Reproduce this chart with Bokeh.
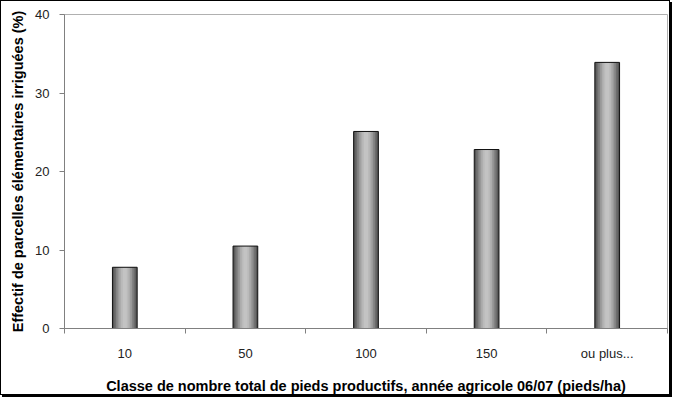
from bokeh.plotting import figure
from bokeh.models import FixedTicker, Range1d, ColumnDataSource
from bokeh.embed import file_html
from bokeh.resources import INLINE

categories = ["10", "50", "100", "150", "ou plus..."]
values = [7.8, 10.5, 25.1, 22.8, 33.9]
y_ticks = [0, 10, 20, 30, 40]

positions = list(range(1, len(categories) + 1))
src = ColumnDataSource(dict(x=positions, top=values))

p = figure(width=670, height=395, output_backend="svg", toolbar_location=None,
           x_range=Range1d(0.5, len(categories) + 0.5), y_range=Range1d(0, 40),
           min_border_left=63, min_border_right=4, min_border_top=13, min_border_bottom=61)
p.styles = {"border": "1px solid black", "box-shadow": "2px 2px 0px #000000"}

p.xgrid.visible = False
p.ygrid.visible = False
p.outline_line_color = "#b0b0b0"
p.outline_line_width = 1
p.background_fill_color = "white"
p.border_fill_color = "white"

# gradient-like bars: stacked layers, darker at edges, lighter in middle
bar_w = 0.205
layers = [(1.00, "#555555"), (0.86, "#6c6c6c"), (0.72, "#838383"),
          (0.58, "#999999"), (0.44, "#acacac"), (0.30, "#bababa"), (0.16, "#c3c3c3")]
for frac, col in layers:
    p.vbar(x="x", top="top", bottom=0, width=bar_w * frac, source=src,
           fill_color=col, line_color=None)
p.vbar(x="x", top="top", bottom=0, width=bar_w, source=src,
       fill_color=None, line_color="#111111", line_width=1)

font = "Liberation Sans"
# x axis
p.xaxis.ticker = FixedTicker(ticks=positions,
                             minor_ticks=[i + 0.5 for i in range(0, len(categories) + 1)])
p.xaxis.major_label_overrides = {pos: lab for pos, lab in zip(positions, categories)}
p.xaxis.major_tick_out = 0
p.xaxis.major_tick_in = 0
p.xaxis.minor_tick_out = 5
p.xaxis.minor_tick_in = 0
p.xaxis.minor_tick_line_color = "#808080"
p.xaxis.axis_line_color = "#808080"
p.xaxis.major_label_standoff = 12
p.xaxis.major_label_text_font = font
p.xaxis.major_label_text_font_size = "13px"
p.xaxis.major_label_text_color = "#222222"
p.xaxis.axis_label = "Classe de nombre total de pieds productifs, année agricole 06/07 (pieds/ha)"
p.xaxis.axis_label_text_font = font
p.xaxis.axis_label_text_font_size = "14.5px"
p.xaxis.axis_label_text_font_style = "bold"
p.xaxis.axis_label_text_color = "#000000"
p.xaxis.axis_label_standoff = 14

# y axis
p.yaxis.ticker = FixedTicker(ticks=y_ticks, minor_ticks=[])
p.yaxis.major_tick_out = 5
p.yaxis.major_tick_in = 0
p.yaxis.major_tick_line_color = "#808080"
p.yaxis.axis_line_color = "#808080"
p.yaxis.major_label_standoff = 10
p.yaxis.major_label_text_font = font
p.yaxis.major_label_text_font_size = "13px"
p.yaxis.major_label_text_color = "#222222"
p.yaxis.axis_label = "Effectif de parcelles élémentaires irriguées (%)"
p.yaxis.axis_label_text_font = font
p.yaxis.axis_label_text_font_size = "14.5px"
p.yaxis.axis_label_text_font_style = "bold"
p.yaxis.axis_label_text_color = "#000000"
p.yaxis.axis_label_standoff = 6

open("out.html", "w").write(file_html(p, INLINE))
